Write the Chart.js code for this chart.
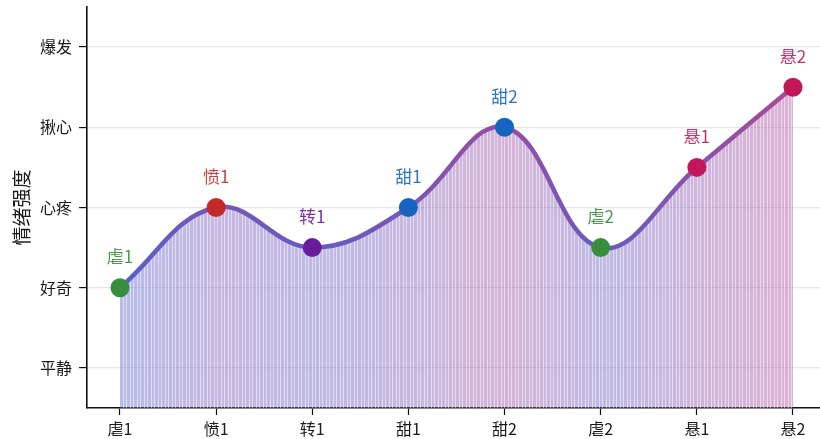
<!DOCTYPE html>
<html>
<head>
<meta charset="utf-8">
<script src="https://cdn.jsdelivr.net/npm/chart.js@4.4.1/dist/chart.umd.min.js"></script>
<style>
  html, body { margin: 0; padding: 0; background: #fff; overflow: hidden; }
</style>
</head>
<body>
<canvas id="myChart" width="820" height="439"></canvas>
<script>
// 情节节点
const scenes = ['虐1', '愤1', '转1', '甜1', '甜2', '虐2', '悬1', '悬2'];
// 情绪强度 (1 = 平静 ... 5 = 爆发)
const intensity = [2, 3, 2.5, 3, 4, 2.5, 3.5, 4.5];
const levels = ['平静', '好奇', '心疼', '揪心', '爆发'];
const pointColors = ['#388E3C', '#C62828', '#6A1B9A', '#1565C0', '#1565C0', '#388E3C', '#C2185B', '#C2185B'];

const FONT = '"Noto Sans CJK SC", "Noto Sans", sans-serif';

// value -> colour (low = blue-violet, high = magenta)
function mix(v, alpha) {
    var t = Math.max(0, Math.min(1, (v - 2) / 2.5));
    var c0 = [84, 96, 204], c1 = [172, 72, 150];
    var r = Math.round(c0[0] + (c1[0] - c0[0]) * t);
    var g = Math.round(c0[1] + (c1[1] - c0[1]) * t);
    var b = Math.round(c0[2] + (c1[2] - c0[2]) * t);
    return 'rgba(' + r + ',' + g + ',' + b + ',' + alpha + ')';
}

function makeGradient(chart, alpha) {
    var area = chart.chartArea;
    if (!area) return mix(3, alpha);
    var xs = chart.scales.x;
    var x0 = xs.getPixelForValue(0), x1 = xs.getPixelForValue(scenes.length - 1);
    var grad = chart.ctx.createLinearGradient(x0, 0, x1, 0);
    intensity.forEach(function (v, i) {
        grad.addColorStop(i / (scenes.length - 1), mix(v, alpha));
    });
    return grad;
}

// vertical stripes laid over the fill
function stripePattern() {
    var c = document.createElement('canvas');
    c.width = 7; c.height = 8;
    var g = c.getContext('2d');
    g.fillStyle = 'rgba(255,255,255,0.5)';
    g.fillRect(0, 0, 1, 8);
    g.fillRect(4, 0, 1, 8);
    return g.createPattern(c, 'repeat');
}

const points = intensity.map((v, i) => ({ x: i, y: v }));

const pointLabels = {
    id: 'pointLabels',
    afterDatasetsDraw(chart) {
        var meta = chart.getDatasetMeta(1);
        var ctx = chart.ctx;
        ctx.save();
        ctx.font = '17px ' + FONT;
        ctx.textAlign = 'center';
        ctx.textBaseline = 'middle';
        meta.data.forEach(function (pt, i) {
            ctx.fillStyle = pointColors[i];
            ctx.globalAlpha = 0.9;
            ctx.fillText(scenes[i], pt.x, pt.y - 31);
        });
        ctx.restore();
    }
};

const ctx = document.getElementById('myChart');
const myChart = new Chart(ctx, {
    type: 'line',
    data: {
        datasets: [{
            // stripes (fill only)
            data: points,
            tension: 0.4,
            borderWidth: 0,
            pointRadius: 0,
            fill: 'start',
            backgroundColor: stripePattern()
        }, {
            data: points,
            tension: 0.4,
            borderWidth: 4.5,
            borderColor: c => makeGradient(c.chart, 1),
            backgroundColor: c => makeGradient(c.chart, 0.42),
            fill: 'start',
            pointRadius: 9.5,
            pointHoverRadius: 9.5,
            pointBorderWidth: 0,
            pointBackgroundColor: pointColors,
            clip: false
        }]
    },
    options: {
        responsive: false,
        animation: false,
        events: [],
        layout: { autoPadding: false, padding: { top: 7, right: 0, left: 0, bottom: 0 } },
        plugins: {
            legend: { display: false },
            tooltip: { enabled: false },
            filler: { drawTime: 'beforeDatasetsDraw' }
        },
        scales: {
            x: {
                type: 'linear',
                min: -0.343,
                max: 7.281,
                afterBuildTicks: axis => { axis.ticks = scenes.map((s, i) => ({ value: i })); },
                afterFit: axis => { axis.height = 31; axis.paddingLeft = 0; axis.paddingRight = 0; },
                ticks: {
                    callback: v => scenes[v],
                    color: '#1a1a1a',
                    font: { size: 16, family: FONT },
                    padding: 4,
                    maxRotation: 0
                },
                grid: { drawOnChartArea: false, tickLength: 7, tickColor: '#111', tickWidth: 1.2 },
                border: { color: '#111', width: 1.6 }
            },
            y: {
                min: 0.5,
                max: 5.5,
                afterBuildTicks: axis => { axis.ticks = levels.map((s, i) => ({ value: i + 1 })); },
                afterFit: axis => { axis.width = 87; axis.paddingTop = 0; axis.paddingBottom = 0; },
                ticks: {
                    callback: v => levels[v - 1],
                    color: '#1a1a1a',
                    font: { size: 16, family: FONT },
                    padding: 7
                },
                grid: { color: '#e6e6e6', lineWidth: 1.2, tickLength: 8, tickColor: '#111', tickWidth: 1.2 },
                border: { color: '#111', width: 1.6 },
                title: {
                    display: true,
                    text: '情绪强度',
                    color: '#1a1a1a',
                    font: { size: 19, family: FONT },
                    padding: { top: 10, bottom: 0 }
                }
            }
        }
    },
    plugins: [pointLabels]
});
</script>
</body>
</html>
